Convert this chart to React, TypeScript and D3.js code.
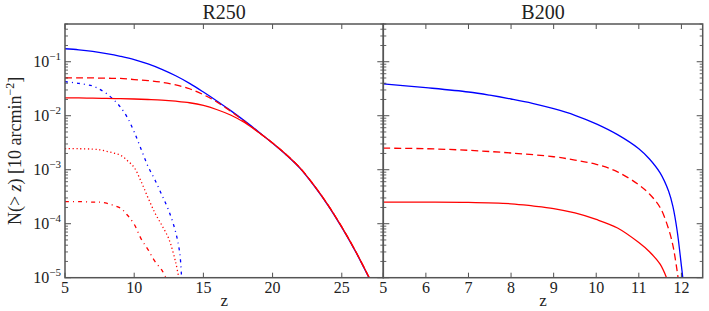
import * as d3 from "d3"

// R250 panel (left)
const r250TotalZ = [5, 6, 7, 8, 9, 10, 11, 12, 13, 14, 15, 16, 17, 18, 19, 20, 21, 22, 23, 24, 25, 26, 27]
const r250TotalN = [0.174, 0.166, 0.155, 0.141, 0.126, 0.11, 0.0912, 0.0724, 0.055, 0.0398, 0.0275, 0.0186, 0.0123, 0.00794, 0.00501, 0.00309, 0.00186, 0.00105, 0.000501, 0.000219, 0.0000851, 0.0000302, 0.00000955]

const r250DashedZ = [5, 6, 7, 8, 9, 10, 11, 12, 13, 14, 15, 16, 17, 18, 19, 20, 21, 22, 23, 24, 25, 26, 27]
const r250DashedN = [0.0501, 0.0501, 0.0501, 0.0495, 0.049, 0.0468, 0.0447, 0.0417, 0.0372, 0.0316, 0.0245, 0.0178, 0.012, 0.00776, 0.0049, 0.00313, 0.0019, 0.00107, 0.000512, 0.000224, 0.0000871, 0.0000309, 0.0000098]

const r250SolidZ = [5, 6, 7, 8, 9, 10, 11, 12, 13, 14, 15, 16, 17, 18, 19, 20, 21, 22, 23, 24, 25, 26, 27]
const r250SolidN = [0.0214, 0.0214, 0.0211, 0.0209, 0.0207, 0.0204, 0.02, 0.0195, 0.0186, 0.0174, 0.0155, 0.0129, 0.0102, 0.00741, 0.0049, 0.00313, 0.0019, 0.00107, 0.000512, 0.000224, 0.0000871, 0.0000309, 0.0000098]

const r250BlueDashDotZ = [5, 6, 7, 7.5, 8, 8.5, 9, 9.5, 10, 10.5, 11, 11.5, 12, 12.5, 13, 13.3, 13.42]
const r250BlueDashDotN = [0.0427, 0.0398, 0.0355, 0.0309, 0.0257, 0.02, 0.0145, 0.00933, 0.00501, 0.0024, 0.00115, 0.000646, 0.000339, 0.000174, 0.0000692, 0.0000275, 0.00001]

const r250DottedZ = [5, 6, 7, 7.5, 8, 8.5, 9, 9.5, 10, 10.5, 11, 11.5, 12, 12.5, 13, 13.22]
const r250DottedN = [0.00245, 0.00245, 0.0024, 0.00234, 0.00219, 0.00204, 0.00186, 0.00148, 0.0011, 0.000603, 0.000302, 0.000158, 0.0000933, 0.0000525, 0.0000191, 0.00001]

const r250RedDashDotZ = [5, 6, 7, 7.5, 8, 8.5, 9, 9.5, 10, 10.5, 11, 11.5, 12, 12.3]
const r250RedDashDotN = [0.000257, 0.000257, 0.000251, 0.000251, 0.00024, 0.000219, 0.000195, 0.000145, 0.0000977, 0.0000525, 0.0000331, 0.00002, 0.0000138, 0.00001]

// B200 panel (right)
const b200BlueZ = [5, 6, 7, 7.5, 8, 8.5, 9, 9.5, 10, 10.5, 11, 11.25, 11.5, 11.7, 11.8, 11.9, 12.0, 12.04]
const b200BlueN = [0.0389, 0.0331, 0.0275, 0.024, 0.0204, 0.017, 0.0135, 0.0102, 0.00708, 0.00447, 0.00245, 0.00158, 0.000871, 0.000398, 0.000209, 0.0000741, 0.0000166, 0.0000089]

const b200DashedZ = [5, 6, 7, 8, 9, 9.5, 10, 10.5, 11, 11.25, 11.5, 11.7, 11.8, 11.85, 11.9, 11.93]
const b200DashedN = [0.00251, 0.00245, 0.00229, 0.00204, 0.00174, 0.00151, 0.00126, 0.000912, 0.000525, 0.000355, 0.0002, 0.0000794, 0.0000398, 0.000024, 0.0000132, 0.0000089]

const b200SolidZ = [5, 6, 7, 8, 8.5, 9, 9.5, 10, 10.5, 11, 11.25, 11.5, 11.65]
const b200SolidN = [0.000251, 0.000251, 0.000248, 0.000234, 0.000214, 0.000191, 0.000158, 0.00012, 0.0000832, 0.0000447, 0.0000302, 0.0000178, 0.00001]

const leftXTicks = [5, 10, 15, 20, 25]
const rightXTicks = [5, 6, 7, 8, 9, 10, 11, 12]
const yMajorExps = [-1, -2, -3, -4, -5]

const W = 709
const H = 311
const top = 24
const bottom = 277.7
const leftX0 = 65
const mid = 383.3
const rightX1 = 702.7
const FONT = "'Liberation Serif', 'DejaVu Serif', serif"

const y = d3.scaleLog().domain([1e-5, 0.5]).range([bottom, top])
const xL = d3.scaleLinear().domain([5, 28]).range([leftX0, mid])
const xR = d3.scaleLinear().domain([5, 12.5]).range([mid, rightX1])

// minor log ticks 2..9 x 10^k inside the domain
const minorY: number[] = []
for (let e = -5; e <= -1; e++) {
  for (let m = 2; m <= 9; m++) {
    const v = m * Math.pow(10, e)
    if (v <= 0.5) minorY.push(v)
  }
}

function mkLine(xs: d3.ScaleLinear<number, number>) {
  return d3
    .line<[number, number]>()
    .x((d) => xs(d[0]))
    .y((d) => y(d[1]))
    .curve(d3.curveCatmullRom.alpha(0.5))
}

function zip(z: number[], n: number[]): [number, number][] {
  return z.map((v, i) => [v, n[i]])
}

function Panel({ x0, x1, xs, ticks, title, clipId, series }: any) {
  const line = mkLine(xs)
  const cx = (x0 + x1) / 2
  return (
    <g>
      <defs>
        <clipPath id={clipId}>
          <rect x={x0} y={top} width={x1 - x0} height={bottom - top} />
        </clipPath>
      </defs>
      <g clipPath={`url(#${clipId})`}>
        {series.map((s: any, i: number) => (
          <path
            key={i}
            d={line(zip(s.z, s.n)) || ""}
            fill="none"
            stroke={s.color}
            strokeWidth={1.3}
            strokeDasharray={s.dash}
          />
        ))}
      </g>
      {/* x ticks, inward, top and bottom */}
      {ticks.map((t: number) => (
        <g key={"xt" + t}>
          <line x1={xs(t)} x2={xs(t)} y1={bottom} y2={bottom - 5} stroke="#222" strokeWidth={0.8} />
          <line x1={xs(t)} x2={xs(t)} y1={top} y2={top + 5} stroke="#222" strokeWidth={0.8} />
          <text x={xs(t)} y={293} textAnchor="middle" fontSize={16} fontFamily={FONT} fill="#222">
            {t}
          </text>
        </g>
      ))}
      {/* y ticks on both sides */}
      {yMajorExps.map((e) => {
        const yy = y(Math.pow(10, e))
        return (
          <g key={"ym" + e}>
            <line x1={x0} x2={x0 + 6} y1={yy} y2={yy} stroke="#222" strokeWidth={0.8} />
            <line x1={x1} x2={x1 - 6} y1={yy} y2={yy} stroke="#222" strokeWidth={0.8} />
          </g>
        )
      })}
      {minorY.map((v, i) => {
        const yy = y(v)
        return (
          <g key={"yn" + i}>
            <line x1={x0} x2={x0 + 3} y1={yy} y2={yy} stroke="#222" strokeWidth={0.7} />
            <line x1={x1} x2={x1 - 3} y1={yy} y2={yy} stroke="#222" strokeWidth={0.7} />
          </g>
        )
      })}
      <rect x={x0} y={top} width={x1 - x0} height={bottom - top} fill="none" stroke="#555" strokeWidth={1.5} />
      <text x={cx} y={19} textAnchor="middle" fontSize={20} fontFamily={FONT} fill="#222">
        {title}
      </text>
      <text x={cx} y={306} textAnchor="middle" fontSize={17} fontFamily={FONT} fill="#222">
        z
      </text>
    </g>
  )
}

export default function App() {
  const leftSeries = [
    { z: r250TotalZ, n: r250TotalN, color: "#0000ff", dash: null },
    { z: r250BlueDashDotZ, n: r250BlueDashDotN, color: "#0000ff", dash: "3,4,1,4" },
    { z: r250DashedZ, n: r250DashedN, color: "#ff0000", dash: "7,4" },
    { z: r250SolidZ, n: r250SolidN, color: "#ff0000", dash: null },
    { z: r250DottedZ, n: r250DottedN, color: "#ff0000", dash: "1.2,2.6" },
    { z: r250RedDashDotZ, n: r250RedDashDotN, color: "#ff0000", dash: "4,4,1,4" },
  ]
  const rightSeries = [
    { z: b200BlueZ, n: b200BlueN, color: "#0000ff", dash: null },
    { z: b200DashedZ, n: b200DashedN, color: "#ff0000", dash: "7,4" },
    { z: b200SolidZ, n: b200SolidN, color: "#ff0000", dash: null },
  ]

  return (
    <svg
      width={W}
      height={H}
      style={{ position: "absolute", left: 0, top: 0, background: "#fff" }}
    >
      <Panel x0={leftX0} x1={mid} xs={xL} ticks={leftXTicks} title="R250" clipId="clipL" series={leftSeries} />
      <Panel x0={mid} x1={rightX1} xs={xR} ticks={rightXTicks} title="B200" clipId="clipR" series={rightSeries} />

      {/* y tick labels */}
      {yMajorExps.map((e) => (
        <text
          key={"yl" + e}
          x={61}
          y={y(Math.pow(10, e)) + 5}
          textAnchor="end"
          fontSize={16}
          fontFamily={FONT}
          fill="#222"
        >
          10
          <tspan dy={-7} fontSize={11}>
            {"\u2212" + -e}
          </tspan>
        </text>
      ))}

      <text
        transform={`translate(21,${(top + bottom) / 2}) rotate(-90)`}
        textAnchor="middle"
        fontSize={18}
        fontFamily={FONT}
        fill="#222"
      >
        {"N(> "}
        <tspan fontStyle="italic">z</tspan>
        {") [10 arcmin"}
        <tspan dy={-7} fontSize={12}>
          {"\u22122"}
        </tspan>
        <tspan dy={7}>]</tspan>
      </text>
    </svg>
  )
}
